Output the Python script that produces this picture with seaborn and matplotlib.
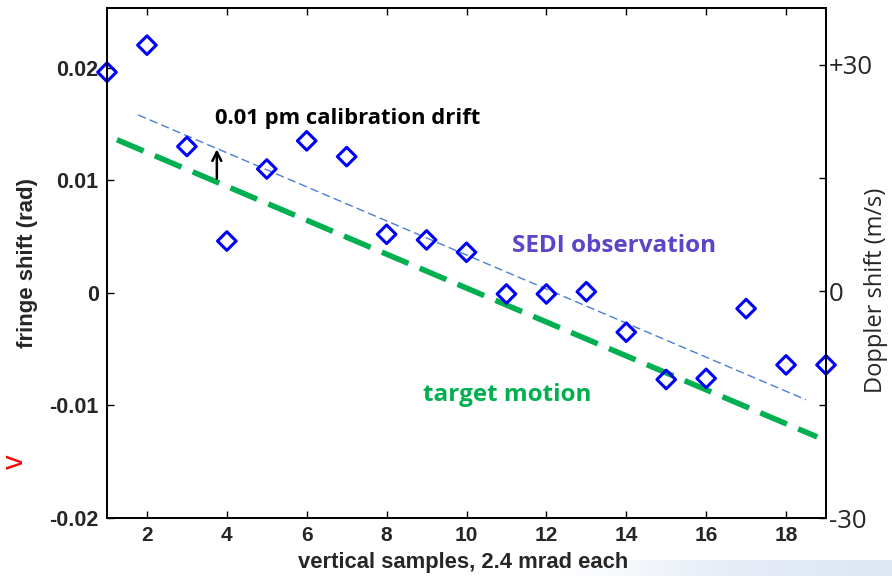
import numpy as np
import pandas as pd
import matplotlib
matplotlib.use("Agg")
import matplotlib.pyplot as plt
import seaborn as sns

# data
samples = [1, 2, 3, 4, 5, 6, 7, 8, 9, 10, 11, 12, 13, 14, 15, 16, 17, 18, 19]
fringe_shift = [0.0196, 0.0220, 0.0130, 0.0046, 0.0110, 0.0135, 0.0121, 0.0052,
                0.0047, 0.0036, -0.0001, -0.0001, 0.0001, -0.0035, -0.0077,
                -0.0076, -0.0014, -0.0064, -0.0064]
obs_fit_x = [1.78, 18.5]
obs_fit_y = [0.0158, -0.0095]
target_x = [1.25, 18.78]
target_y = [0.0136, -0.0128]
arrow_x = 3.75
arrow_y = [0.0099, 0.0130]
xticks = [2, 4, 6, 8, 10, 12, 14, 16, 18]
yticks = [-0.02, -0.01, 0, 0.01, 0.02]
ytick_labels = ["-0.02", "-0.01", "0", "0.01", "0.02"]
rticks = [-30, -15, 0, 15, 30]
rtick_labels = ["-30", "", "0", "", "+30"]

sns.set_theme(style="white")
plt.rcParams['font.family'] = ['Liberation Sans', 'DejaVu Sans']

fig = plt.figure(figsize=(8.92, 5.76), dpi=100)
ax = fig.add_axes([107/892, 58/576, 719/892, 510/576])

df = pd.DataFrame({"x": samples, "y": fringe_shift})
df_obs = pd.DataFrame({"x": obs_fit_x, "y": obs_fit_y})
df_tar = pd.DataFrame({"x": target_x, "y": target_y})

sns.lineplot(data=df_obs, x="x", y="y", ax=ax, color="#4a7fd4", lw=1.0,
             linestyle=(0, (6, 3)))
sns.lineplot(data=df_tar, x="x", y="y", ax=ax, color="#00b050", lw=4.0,
             linestyle=(0, (5.2, 2.2)))
sns.scatterplot(data=df, x="x", y="y", ax=ax, marker="D", s=90,
                facecolor="none", edgecolor="#0000ff", linewidth=2.2, zorder=5,
                clip_on=False)

ax.annotate("", xy=(arrow_x, arrow_y[1]), xytext=(arrow_x, arrow_y[0]),
            arrowprops=dict(arrowstyle="->", color="black", lw=1.8,
                            mutation_scale=16))

ax.text(3.7, 0.0155, "0.01 pm calibration drift", fontsize=15.8,
        fontweight="bold", family=["Open Sans", "DejaVu Sans"],
        color="black", va="center", ha="left")
ax.text(11.15, 0.0042, "SEDI observation", fontsize=17.5,
        fontweight="bold", family=["Open Sans", "DejaVu Sans"],
        color="#5a46c8", va="center", ha="left")
ax.text(8.9, -0.0091, "target motion", fontsize=17.5,
        fontweight="bold", family=["Open Sans", "DejaVu Sans"],
        color="#00b050", va="center", ha="left")

ax.set_xlim(1, 19)
ax.set_ylim(-0.02, 0.0253)
ax.set_xticks(xticks)
ax.set_xticklabels([str(t) for t in xticks], fontsize=15, fontweight="bold")
ax.set_yticks(yticks)
ax.set_yticklabels(ytick_labels, fontsize=15.5, fontweight="bold")
ax.tick_params(axis="both", direction="in", length=5, width=1, color="black",
               top=True, bottom=True, left=True, right=False, pad=6)
ax.set_xlabel("vertical samples, 2.4 mrad each", fontsize=15.8, fontweight="bold")
ax.xaxis.set_label_coords(0.495, -0.067)
ax.set_ylabel("fringe shift (rad)", fontsize=16, fontweight="bold")
ax.yaxis.set_label_coords(-0.096, 0.5)
for s in ax.spines.values():
    s.set_color("black")
    s.set_linewidth(1.3)

ax2 = ax.twinx()
ax2.set_ylim(-30, 37.5)
ax2.set_yticks(rticks)
ax2.set_yticklabels(rtick_labels, fontsize=18.5, family=["Open Sans", "DejaVu Sans"])
ax2.tick_params(axis="y", direction="in", length=5, width=1, color="black", pad=2)
ax2.set_ylabel("Doppler shift (m/s)", fontsize=17, family=["Open Sans", "DejaVu Sans"])
ax2.yaxis.set_label_coords(1.0535, 0.447)
for s in ax2.spines.values():
    s.set_color("black")
    s.set_linewidth(1.3)
ax2.grid(False)

fig.text(0.5/892, 1 - 462/576, "v", color="red", fontsize=21,
         rotation=90, va="center", ha="left")

# light band bottom right
grad = np.linspace(0, 1, 256).reshape(1, -1)
bax = fig.add_axes([560/892, 0, 332/892, 16/576], zorder=-1)
bax.imshow(grad, aspect="auto", cmap=matplotlib.colors.LinearSegmentedColormap.from_list(
    "b", ["#ffffff", "#e6edf7", "#dde6f3"]))
bax.axis("off")

fig.savefig("out.png", dpi=100)
